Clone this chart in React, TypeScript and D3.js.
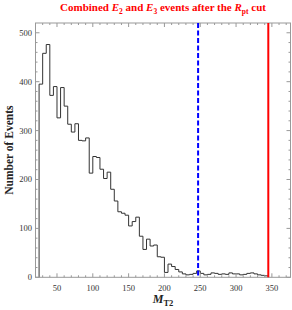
import * as d3 from 'd3';
import React from 'react';

// histogram: bins of width 5 starting at 25 (counts per bin)
const binStart = 25;
const binWidth = 5;
const counts = [
    395, 458, 476, 372, 390, 326, 388, 350, 313, 297, 314, 280, 279, 285, 213,
    247, 245, 221, 202, 215, 180, 156, 134, 131, 127, 105, 114, 123, 84, 57, 78,
    64, 66, 42, 41, 10, 27, 22, 16, 11, 7, 5, 6, 8, 13, 8, 5, 6, 9, 8, 6, 7, 6,
    9, 7, 7, 5, 6, 8, 9, 7, 5, 4, 3,
];
const cutBlue = 247;
const cutRed = 345;

const xTicks = [50, 100, 150, 200, 250, 300, 350];
const yTicks = [0, 100, 200, 300, 400, 500];

const width = 292;
const height = 310;
const margin = { top: 23, right: 1.5, bottom: 32.7, left: 35.5 };

const App = () => {
    const x = d3
        .scaleLinear()
        .domain([20, 376])
        .range([margin.left, width - margin.right]);
    const y = d3
        .scaleLinear()
        .domain([0, 520])
        .range([height - margin.bottom, margin.top]);

    const x0 = margin.left;
    const x1 = width - margin.right;
    const y0 = height - margin.bottom;
    const y1 = margin.top;

    // step outline of the histogram
    const pts: [number, number][] = [[binStart, 0]];
    counts.forEach((c, i) => {
        pts.push([binStart + i * binWidth, c]);
        pts.push([binStart + (i + 1) * binWidth, c]);
    });
    pts.push([binStart + counts.length * binWidth, 0]);
    const line = d3
        .line<[number, number]>()
        .x((d) => x(d[0]))
        .y((d) => y(d[1]));

    const xMinor = d3.range(20, 377, 10).filter((v) => v % 50 !== 0);
    const yMinor = d3.range(20, 520, 20).filter((v) => v % 100 !== 0);
    const frame = '#999';
    const font = "'Liberation Serif', 'Times New Roman', serif";

    return (
        <svg
            width={width}
            height={height}
            style={{ position: 'absolute', left: 0, top: 0 }}
            fontFamily={font}
        >
            <rect width={width} height={height} fill="#fff" />
            <path
                d={line(pts) ?? ''}
                fill="none"
                stroke="#333"
                strokeWidth={1}
            />
            {/* frame */}
            <rect
                x={x0}
                y={y1}
                width={x1 - x0}
                height={y0 - y1}
                fill="none"
                stroke={frame}
                strokeWidth={1}
            />
            {xTicks.map((t) => (
                <g key={'xt' + t}>
                    <line x1={x(t)} x2={x(t)} y1={y0} y2={y0 - 4} stroke={frame} />
                    <line x1={x(t)} x2={x(t)} y1={y1} y2={y1 + 4} stroke={frame} />
                    <text
                        x={x(t)}
                        y={y0 + 14}
                        fontSize={8.5}
                        textAnchor="middle"
                        fill="#333"
                    >
                        {t}
                    </text>
                </g>
            ))}
            {xMinor.map((t) => (
                <g key={'xm' + t}>
                    <line x1={x(t)} x2={x(t)} y1={y0} y2={y0 - 2} stroke={frame} />
                    <line x1={x(t)} x2={x(t)} y1={y1} y2={y1 + 2} stroke={frame} />
                </g>
            ))}
            {yTicks.map((t) => (
                <g key={'yt' + t}>
                    <line x1={x0} x2={x0 + 4} y1={y(t)} y2={y(t)} stroke={frame} />
                    <line x1={x1} x2={x1 - 4} y1={y(t)} y2={y(t)} stroke={frame} />
                    <text
                        x={x0 - 3.5}
                        y={y(t) + 3}
                        fontSize={8.5}
                        textAnchor="end"
                        fill="#333"
                    >
                        {t}
                    </text>
                </g>
            ))}
            {yMinor.map((t) => (
                <g key={'ym' + t}>
                    <line x1={x0} x2={x0 + 2} y1={y(t)} y2={y(t)} stroke={frame} />
                    <line x1={x1} x2={x1 - 2} y1={y(t)} y2={y(t)} stroke={frame} />
                </g>
            ))}
            {/* cut lines */}
            <line
                x1={x(cutBlue)}
                x2={x(cutBlue)}
                y1={y1}
                y2={y0}
                stroke="#0000ff"
                strokeWidth={2}
                strokeDasharray="5,2.5"
            />
            <line
                x1={x(cutRed)}
                x2={x(cutRed)}
                y1={y1}
                y2={y0}
                stroke="#ff0000"
                strokeWidth={2}
            />
            {/* title */}
            <text
                x={(x0 + x1) / 2}
                y={11}
                fontSize={11}
                fontWeight="bold"
                fill="#ff0000"
                textAnchor="middle"
            >
                Combined <tspan fontStyle="italic">E</tspan>
                <tspan fontSize={7.5} dy={2.5}>2</tspan>
                <tspan dy={-2.5}> and </tspan>
                <tspan fontStyle="italic">E</tspan>
                <tspan fontSize={7.5} dy={2.5}>3</tspan>
                <tspan dy={-2.5}> events after the </tspan>
                <tspan fontStyle="italic">R</tspan>
                <tspan fontSize={7.5} dy={2.5}>pt</tspan>
                <tspan dy={-2.5}> cut</tspan>
            </text>
            {/* axis labels */}
            <text
                transform={`translate(13,${(y0 + y1) / 2}) rotate(-90)`}
                fontSize={11.5}
                fontWeight="bold"
                textAnchor="middle"
                fill="#222"
            >
                Number of Events
            </text>
            <text
                x={(x0 + x1) / 2}
                y={303}
                fontSize={12}
                fontWeight="bold"
                textAnchor="middle"
                fill="#222"
            >
                <tspan fontStyle="italic">M</tspan>
                <tspan fontSize={8.5} dy={2.5}>T2</tspan>
            </text>
        </svg>
    );
};

export default App;
